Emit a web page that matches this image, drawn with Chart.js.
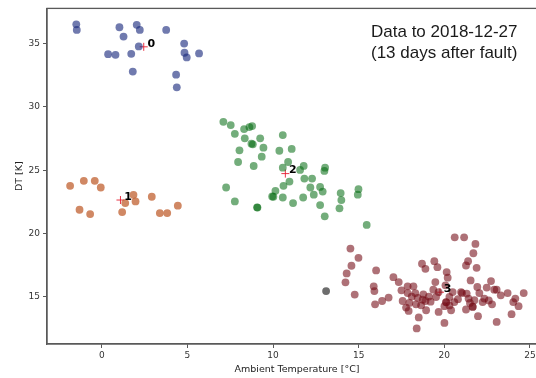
<!DOCTYPE html>
<html>
<head>
<meta charset="utf-8">
<script src="https://cdn.jsdelivr.net/npm/chart.js@4"></script>
<style>
html, body { margin: 0; padding: 0; overflow: hidden; background: #fff; }
#wrap { width: 560px; height: 378px; }
</style>
</head>
<body>
<div id="wrap"><canvas id="chart"></canvas></div>
<script>
// cluster points, [ambient temperature, DT]
var cluster0 = [
    [-1.49, 36.54], [-1.46, 36.10], [1.03, 36.31], [2.04, 36.50], [2.22, 36.10],
    [1.27, 35.57], [3.76, 36.10], [2.16, 34.79], [0.37, 34.18], [0.80, 34.13],
    [1.72, 34.21], [1.81, 32.80], [4.81, 35.02], [4.83, 34.29], [4.96, 33.92],
    [5.68, 34.24], [4.34, 32.56], [4.38, 31.56]
];
var cluster1 = [
    [-1.85, 23.76], [-1.05, 24.16], [-0.41, 24.16], [-0.06, 23.63], [-1.30, 21.87],
    [-0.68, 21.53], [1.19, 21.69], [1.37, 22.40], [1.85, 23.05], [1.97, 22.53],
    [2.92, 22.90], [3.39, 21.61], [3.82, 21.61], [4.44, 22.19]
];
var cluster2 = [
    [7.10, 28.83], [7.53, 28.57], [7.77, 27.88], [8.31, 28.25], [8.62, 28.41],
    [8.78, 28.49], [8.35, 27.52], [8.82, 27.05], [8.74, 27.10], [9.25, 27.52],
    [9.44, 26.78], [8.04, 26.57], [7.96, 25.65], [9.34, 26.07], [8.87, 25.33],
    [10.57, 27.78], [10.37, 26.54], [11.09, 26.68], [10.88, 25.65], [10.57, 25.20],
    [11.58, 25.02], [11.79, 25.34], [10.96, 24.10], [10.61, 23.76], [10.14, 23.37],
    [10.02, 22.90], [9.95, 22.92], [10.57, 22.84], [11.17, 22.40], [11.83, 24.34],
    [12.28, 24.34], [12.18, 23.63], [12.38, 23.06], [11.76, 22.84], [12.75, 23.68],
    [12.90, 23.31], [12.75, 22.24], [13.02, 21.35], [13.04, 25.20], [13.00, 24.94],
    [13.95, 23.19], [13.99, 22.64], [13.88, 21.98], [14.99, 23.50], [14.95, 23.06],
    [15.47, 20.67], [7.26, 23.63], [7.77, 22.53], [9.07, 22.06], [9.09, 22.04]
];
var cluster3 = [
    [14.52, 18.80], [14.99, 18.07], [14.58, 17.44], [14.30, 16.83], [14.23, 16.13],
    [14.77, 15.16], [16.02, 17.07], [15.88, 15.81], [15.92, 15.44], [15.96, 14.39],
    [16.37, 14.65], [16.75, 14.92], [17.03, 16.54], [17.34, 16.15], [17.57, 14.65],
    [17.77, 14.13], [17.86, 15.81], [18.20, 15.81], [17.86, 15.28], [18.31, 15.28],
    [17.96, 14.50], [17.92, 13.87], [18.35, 14.39], [18.51, 13.35], [18.39, 12.48],
    [18.70, 17.60], [18.90, 17.20], [18.78, 15.18], [18.74, 14.76], [18.90, 14.65],
    [18.65, 14.31], [18.94, 13.92], [19.42, 17.80], [19.60, 17.33], [19.48, 16.15],
    [19.36, 15.55], [19.67, 15.36], [19.67, 13.79], [20.01, 12.92], [20.14, 16.94],
    [20.20, 16.50], [20.07, 15.89], [20.10, 14.57], [20.01, 14.24], [20.30, 14.97],
    [20.49, 15.36], [20.59, 14.57], [20.40, 13.92], [20.61, 19.69], [21.16, 19.69],
    [21.82, 19.17], [21.70, 18.43], [21.39, 17.80], [21.27, 17.46], [21.89, 17.28],
    [21.54, 16.28], [21.04, 15.28], [21.31, 15.24], [21.42, 14.84], [21.27, 13.98],
    [21.66, 14.18], [21.76, 14.71], [21.93, 15.76], [21.97, 13.45], [22.34, 14.84],
    [22.24, 14.57], [22.48, 15.71], [22.73, 16.23], [22.92, 15.55], [23.06, 15.55],
    [22.79, 14.39], [23.06, 13.00], [23.70, 15.28], [23.93, 13.61], [24.03, 14.57],
    [24.15, 14.84], [24.34, 14.24], [24.64, 15.28], [22.05, 15.28], [20.98, 15.36],
    [19.52, 14.97], [18.10, 15.00], [18.45, 14.90], [19.10, 15.00], [19.20, 14.60],
    [20.30, 14.30], [20.80, 14.80], [21.50, 14.50], [22.60, 14.70], [23.30, 15.10],
    [17.50, 15.50], [21.66, 14.20], [20.12, 14.55]
];
var outliers = [[13.10, 15.44]];

// cluster centres and their labels
var centreX = [2.45, 1.09, 10.72, 19.75];
var centreY = [34.76, 22.64, 24.73, 15.35];
var centreLabels = ["0", "1", "2", "3"];

var xTicks = [0, 5, 10, 15, 20, 25];
var yTicks = [15, 20, 25, 30, 35];
var noteLines = ["Data to 2018-12-27", "(13 days after fault)"];

function toPoints(pairs) {
    return pairs.map(function (p) { return {x: p[0], y: p[1]}; });
}

function scatterSet(pairs, color) {
    return {
        data: toPoints(pairs),
        backgroundColor: color,
        borderWidth: 0,
        pointRadius: 3.9
    };
}

var framePlugin = {
    id: "frame",
    afterDraw: function (chart) {
        var ctx = chart.ctx;
        var a = chart.chartArea;
        ctx.save();
        ctx.strokeStyle = "#595959";
        ctx.lineWidth = 1.3;
        ctx.strokeRect(a.left, a.top, a.right - a.left, a.bottom - a.top);

        // centre labels
        ctx.fillStyle = "#000";
        ctx.font = "bold 11px 'DejaVu Sans'";
        ctx.textAlign = "center";
        ctx.textBaseline = "middle";
        for (var i = 0; i < centreLabels.length; i++) {
            var px = chart.scales.x.getPixelForValue(centreX[i]);
            var py = chart.scales.y.getPixelForValue(centreY[i]);
            ctx.fillText(centreLabels[i], px + 7.5, py - 3);
        }

        // note in the upper right
        ctx.fillStyle = "#1a1a1a";
        ctx.font = "17px 'Liberation Sans'";
        ctx.textAlign = "left";
        ctx.fillText(noteLines[0], a.right - 176, a.top + 24);
        ctx.fillText(noteLines[1], a.right - 176, a.top + 45);
        ctx.restore();
    }
};

new Chart(document.getElementById("chart"), {
    type: "scatter",
    data: {
        datasets: [
            scatterSet(cluster0, "rgba(25,40,125,0.62)"),
            scatterSet(cluster1, "rgba(190,90,40,0.72)"),
            scatterSet(cluster2, "rgba(0,105,15,0.55)"),
            scatterSet(cluster3, "rgba(115,10,20,0.58)"),
            scatterSet(outliers, "rgba(40,40,40,0.68)"),
            {
                data: centreX.map(function (v, i) { return {x: v, y: centreY[i]}; }),
                pointStyle: "cross",
                pointRadius: 4,
                borderColor: "rgba(230,30,50,0.9)",
                borderWidth: 1,
                backgroundColor: "transparent"
            }
        ]
    },
    options: {
        responsive: true,
        maintainAspectRatio: false,
        animation: false,
        devicePixelRatio: 1,
        layout: {padding: {top: 7, right: 13, left: 0, bottom: 0}},
        plugins: {legend: {display: false}, tooltip: {enabled: false}},
        scales: {
            x: {
                type: "linear",
                min: -3.2,
                max: 26,
                afterBuildTicks: function (s) { s.ticks = xTicks.map(function (v) { return {value: v}; }); },
                afterFit: function (s) { s.height = 34; },
                grid: {drawOnChartArea: false, tickLength: 4, color: "#595959"},
                border: {color: "#595959", width: 1.3},
                ticks: {color: "#333", padding: 2, font: {family: "DejaVu Sans", size: 9}},
                title: {
                    display: true,
                    text: "Ambient Temperature [°C]",
                    color: "#222",
                    font: {family: "DejaVu Sans", size: 9.5},
                    padding: {top: 0, bottom: 3}
                }
            },
            y: {
                type: "linear",
                min: 11.25,
                max: 37.8,
                afterBuildTicks: function (s) { s.ticks = yTicks.map(function (v) { return {value: v}; }); },
                afterFit: function (s) { s.width = 47; },
                grid: {drawOnChartArea: false, tickLength: 4, color: "#595959"},
                border: {color: "#595959", width: 1.3},
                ticks: {color: "#333", padding: 3, font: {family: "DejaVu Sans", size: 9}},
                title: {
                    display: true,
                    text: "DT [K]",
                    color: "#222",
                    font: {family: "DejaVu Sans", size: 9.5},
                    padding: {top: 14, bottom: 0}
                }
            }
        }
    },
    plugins: [framePlugin]
});
</script>
</body>
</html>
